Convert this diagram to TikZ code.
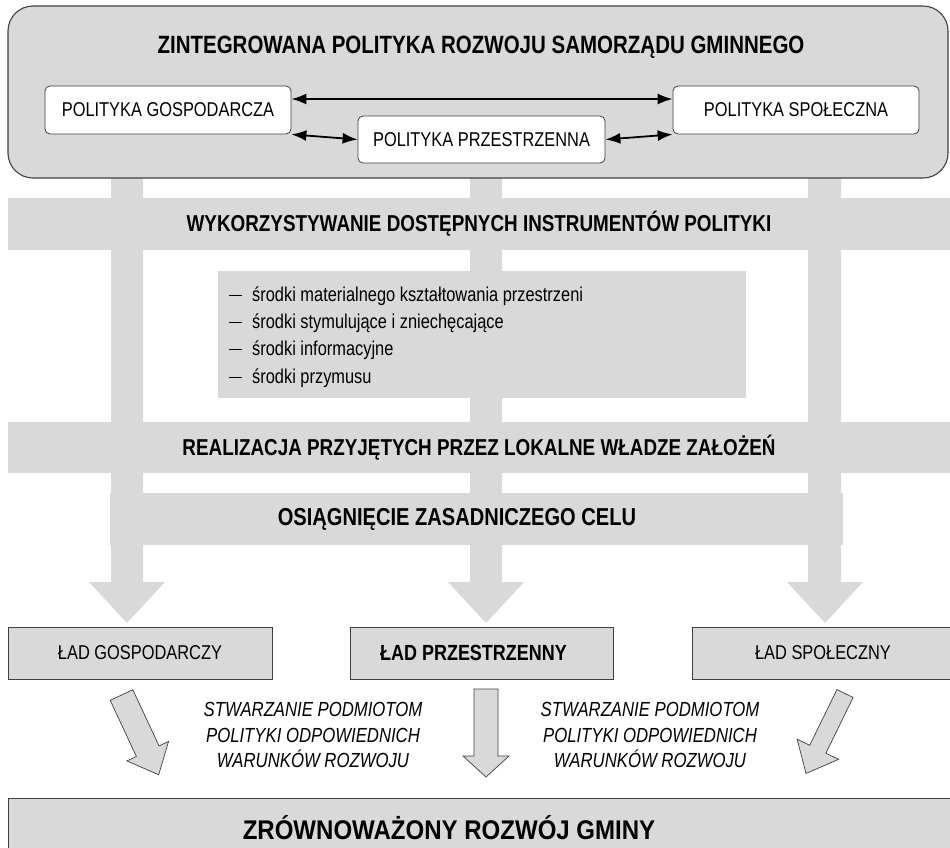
\documentclass[tikz,border=0pt]{standalone}
\usepackage{fontspec}
\setmainfont{Liberation Sans}[FakeStretch=0.82]
\newfontfamily\widefont{Liberation Sans}[FakeStretch=0.89]
\usetikzlibrary{arrows.meta}
\definecolor{fillgray}{RGB}{217,217,217}
\definecolor{edgegray}{RGB}{64,64,64}
\newcommand{\tooldash}{\rule[0.29em]{13pt}{0.9pt}\hspace{10pt}}
\begin{document}
\begin{tikzpicture}[x=1pt,y=-1pt,
  bandshape/.style={fill=fillgray, draw=none, inner sep=0pt, outer sep=0pt},
  polbox/.style={draw=edgegray, fill=white, rounded corners=5pt, line width=0.8pt,
    inner sep=0pt, font=\fontsize{20}{24}\selectfont},
  ladbox/.style={draw=edgegray, fill=fillgray, line width=0.9pt, inner sep=0pt,
    font=\fontsize{20}{24}\selectfont},
  bandtext/.style={font=\bfseries\fontsize{23}{26}\selectfont},
  link/.style={{Latex[length=15pt,width=11pt]}-{Latex[length=15pt,width=11pt]}, line width=1.8pt, black},
  smallarrow/.style={draw=edgegray, fill=fillgray, line width=0.7pt, line join=miter},
  italtext/.style={font=\itshape\fontsize{20.4}{25.5}\selectfont, align=center}
]
\useasboundingbox (0,0) rectangle (950,847);
\fill[white] (0,0) rectangle (950,847);

% vertical columns with arrow heads
\fill[fillgray] (111,170) -- (111,582) -- (89,582) -- (127,623) -- (165,582) -- (143,582) -- (143,170) -- cycle;
\fill[fillgray] (470,170) -- (470,582) -- (448,582) -- (486,623) -- (524,582) -- (502,582) -- (502,170) -- cycle;
\fill[fillgray] (808,170) -- (808,582) -- (787,582) -- (825,623) -- (863,582) -- (841,582) -- (841,170) -- cycle;

% top container
\node[draw=edgegray, fill=fillgray, line width=1.1pt, rounded corners=25pt,
  minimum width=940pt, minimum height=172pt, inner sep=0pt] (top) at (478,92) {};
\node[font=\bfseries\fontsize{25}{28}\selectfont] (title) at (481,47) {ZINTEGROWANA POLITYKA ROZWOJU SAMORZĄDU GMINNEGO};
\node[polbox, minimum width=246pt, minimum height=48pt] (pgosp) at (168,110) {POLITYKA GOSPODARCZA};
\node[polbox, minimum width=247pt, minimum height=47pt] (pprz) at (481.5,139.5) {POLITYKA PRZESTRZENNA};
\node[polbox, minimum width=246pt, minimum height=48pt] (pspol) at (796,110) {POLITYKA SPOŁECZNA};
\draw[link] ([yshift=11pt]pgosp.east) -- ([yshift=11pt]pspol.west);
\draw[link] (pgosp.south east) -- (pprz.west);
\draw[link] (pprz.east) -- (pspol.south west);

% bands
\node[bandshape, minimum width=942pt, minimum height=52pt, bandtext] (band1) at (479,224)
  {WYKORZYSTYWANIE DOSTĘPNYCH INSTRUMENTÓW POLITYKI};
\node[bandshape, minimum width=528pt, minimum height=127pt] (tools) at (482,334.5) {};
\node[anchor=west, align=left, font=\fontsize{20}{27.3}\selectfont, inner sep=0pt] (toolstext) at (229,337)
  {\tooldash środki materialnego kształtowania przestrzeni\\
   \tooldash środki stymulujące i zniechęcające\\
   \tooldash środki informacyjne\\
   \tooldash środki przymusu};
\node[bandshape, minimum width=942pt, minimum height=51pt, bandtext] (band2) at (479,447.5)
  {REALIZACJA PRZYJĘTYCH PRZEZ LOKALNE WŁADZE ZAŁOŻEŃ};
\node[bandshape, minimum width=733pt, minimum height=52pt] (band3) at (476.5,519) {};
\node[font=\bfseries\fontsize{24.5}{28}\selectfont] (band3text) at (457,519) {OSIĄGNIĘCIE ZASADNICZEGO CELU};

% orders
\node[ladbox, minimum width=264pt, minimum height=52pt] (lgosp) at (140,653) {ŁAD GOSPODARCZY};
\node[ladbox, minimum width=263pt, minimum height=52pt] (lprz) at (481.5,653) {};
\node[font=\bfseries\fontsize{21.9}{24}\selectfont] (lprztext) at (473.5,653) {ŁAD PRZESTRZENNY};
\node[ladbox, minimum width=262pt, minimum height=52pt] (lspol) at (823,653) {ŁAD SPOŁECZNY};

% small block arrows
\draw[smallarrow, shift={(121.5,695)}, rotate=25]
  (-12.5,0) -- (-12.5,62) -- (-23,62) -- (0,88) -- (23,62) -- (12.5,62) -- (12.5,0) -- cycle;
\draw[smallarrow, shift={(486,689)}]
  (-12,0) -- (-12,67) -- (-23,67) -- (0,88) -- (23,67) -- (12,67) -- (12,0) -- cycle;
\draw[smallarrow, shift={(845,693.5)}, rotate=-26]
  (-9,0) -- (-9,62) -- (-23,62) -- (0,89) -- (23,62) -- (9,62) -- (9,0) -- cycle;

\node[italtext] (cond1) at (313,735) {STWARZANIE PODMIOTOM\\POLITYKI ODPOWIEDNICH\\WARUNKÓW ROZWOJU};
\node[italtext] (cond2) at (650,735) {STWARZANIE PODMIOTOM\\POLITYKI ODPOWIEDNICH\\WARUNKÓW ROZWOJU};

% final
\node[ladbox, minimum width=944pt, minimum height=52pt, anchor=north west] (final) at (8,798) {};
\node[font=\widefont\bfseries\fontsize{27}{30}\selectfont] (finaltext) at (449,828) {ZRÓWNOWAŻONY ROZWÓJ GMINY};
\end{tikzpicture}
\end{document}
